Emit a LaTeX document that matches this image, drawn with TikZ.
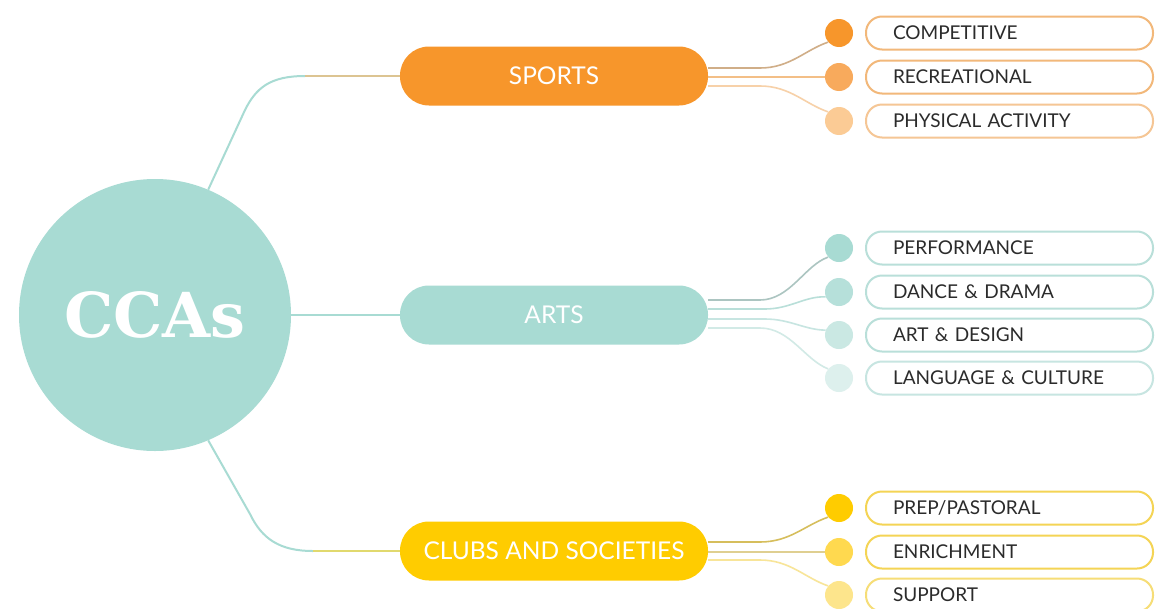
\documentclass[tikz,border=0pt]{standalone}
\usepackage{fontspec}
\setmainfont{Lato}
\newfontfamily\slabfont{DejaVu Serif}
\definecolor{ccTeal}{HTML}{A8DBD3}
\definecolor{ccOrange}{HTML}{F7962B}
\definecolor{ccYellow}{HTML}{FFCC00}
\definecolor{oDotA}{HTML}{F7962B}
\definecolor{oDotB}{HTML}{F8AA5C}
\definecolor{oDotC}{HTML}{FBCB95}
\definecolor{tDotA}{HTML}{A8DBD3}
\definecolor{tDotB}{HTML}{B6E0DA}
\definecolor{tDotC}{HTML}{CAE8E3}
\definecolor{tDotD}{HTML}{DDF0ED}
\definecolor{yDotA}{HTML}{FFCC00}
\definecolor{yDotB}{HTML}{FFD94F}
\definecolor{yDotC}{HTML}{FDE58C}
\definecolor{oLine}{HTML}{F2B87A}
\definecolor{tLine}{HTML}{B9DFD9}
\definecolor{yLine}{HTML}{F4D455}
\definecolor{leafText}{HTML}{2B2B2B}
\pgfdeclarelayer{bg}
\pgfdeclarelayer{paper}
\pgfsetlayers{paper,bg,main}
\begin{document}
\begin{tikzpicture}[x=1pt,y=-1pt,
  mainbox/.style={rounded corners=29pt, minimum width=308pt, minimum height=59pt,
    text=white, font=\fontsize{24.5}{24.5}\selectfont, inner sep=0pt},
  dotnode/.style={circle, minimum size=28pt, inner sep=0pt},
  leafbox/.style={draw, line width=2pt, rounded corners=16pt, minimum width=287pt,
    minimum height=33pt, fill=white, text=leafText, inner xsep=27pt, inner ysep=0pt,
    text width=233pt, align=left, font=\fontsize{19}{19}\selectfont},
  trunk/.style={line width=2pt},
  twig/.style={line width=1.6pt}]
\useasboundingbox (0,0) rectangle (1155,608);
\begin{pgfonlayer}{paper}
\fill[white] (0,0) rectangle (1155,608);
\end{pgfonlayer}

% central circle
\node[circle, fill=ccTeal, minimum size=272pt, inner sep=0pt, text=white,
  font=\slabfont\bfseries\fontsize{62}{62}\selectfont] (cca) at (155,315) {CCAs};

% main boxes
\node[mainbox, fill=ccOrange] (sports) at (554,76) {SPORTS};
\node[mainbox, fill=ccTeal] (arts) at (554,315) {ARTS};
\node[mainbox, fill=ccYellow] (clubs) at (554,551) {CLUBS AND SOCIETIES};

% sports leaves
\node[dotnode, fill=oDotA] (sd1) at (839,33) {};
\node[dotnode, fill=oDotB] (sd2) at (839,77) {};
\node[dotnode, fill=oDotC] (sd3) at (839,121) {};
\node[leafbox, draw=oLine] (sl1) at (1009.5,33) {COMPETITIVE};
\node[leafbox, draw=oLine] (sl2) at (1009.5,77) {RECREATIONAL};
\node[leafbox, draw=oLine!80!white] (sl3) at (1009.5,121) {PHYSICAL ACTIVITY};

% arts leaves
\node[dotnode, fill=tDotA] (ad1) at (839,248) {};
\node[dotnode, fill=tDotB] (ad2) at (839,292) {};
\node[dotnode, fill=tDotC] (ad3) at (839,335) {};
\node[dotnode, fill=tDotD] (ad4) at (839,378) {};
\node[leafbox, draw=tLine] (al1) at (1009.5,248) {PERFORMANCE};
\node[leafbox, draw=tLine] (al2) at (1009.5,292) {DANCE \& DRAMA};
\node[leafbox, draw=tLine] (al3) at (1009.5,335) {ART \& DESIGN};
\node[leafbox, draw=tLine!80!white] (al4) at (1009.5,378) {LANGUAGE \& CULTURE};

% clubs leaves
\node[dotnode, fill=yDotA] (cd1) at (839,508) {};
\node[dotnode, fill=yDotB] (cd2) at (839,552) {};
\node[dotnode, fill=yDotC] (cd3) at (839,595) {};
\node[leafbox, draw=yLine] (cl1) at (1009.5,508) {PREP/PASTORAL};
\node[leafbox, draw=yLine] (cl2) at (1009.5,552) {ENRICHMENT};
\node[leafbox, draw=yLine!80!white] (cl3) at (1009.5,595) {SUPPORT};

\begin{pgfonlayer}{bg}
% trunk connectors
\draw[trunk, ccTeal] (cca.67) -- (245,110) .. controls (256,88) and (270,76) .. (305,76);
\draw[trunk, ccOrange!55!ccTeal!80!white] (305,76) -- (sports.west);
\draw[trunk, ccTeal] (cca.east) -- (arts.west);
\draw[trunk, ccTeal] (cca.-67) -- (250,514) .. controls (262,539) and (280,551) .. (313,551);
\draw[trunk, ccYellow!60!ccTeal!85!white] (313,551) -- (clubs.west);

% sports twigs
\draw[twig, ccOrange!50!gray!70!white] ([yshift=8pt]sports.east) -- (760,68) .. controls (790,68) and (805,50) .. (sd1.-140);
\draw[twig, oLine!90!white] ([yshift=-1pt]sports.east) -- (sd2.west);
\draw[twig, oLine!65!white] ([yshift=-10pt]sports.east) -- (760,86) .. controls (790,86) and (805,104) .. (sd3.140);

% arts twigs
\draw[twig, ccTeal!60!gray!80!white] ([yshift=15pt]arts.east) -- (760,300) .. controls (790,300) and (805,265) .. (ad1.-140);
\draw[twig, tLine] ([yshift=6pt]arts.east) -- (765,309) .. controls (790,309) and (805,296) .. (ad2.-160);
\draw[twig, tLine!80!white] ([yshift=-4pt]arts.east) -- (765,319) .. controls (790,319) and (805,330) .. (ad3.160);
\draw[twig, tLine!65!white] ([yshift=-13pt]arts.east) -- (760,328) .. controls (790,328) and (805,360) .. (ad4.140);

% clubs twigs
\draw[twig, ccYellow!60!gray!80!white] ([yshift=9pt]clubs.east) -- (760,542) .. controls (790,542) and (805,525) .. (cd1.-140);
\draw[twig, yLine!70!gray!70!white] ([yshift=-1pt]clubs.east) -- (cd2.west);
\draw[twig, yLine!60!white] ([yshift=-9pt]clubs.east) -- (760,560) .. controls (790,560) and (805,578) .. (cd3.140);
\end{pgfonlayer}
\end{tikzpicture}
\end{document}
